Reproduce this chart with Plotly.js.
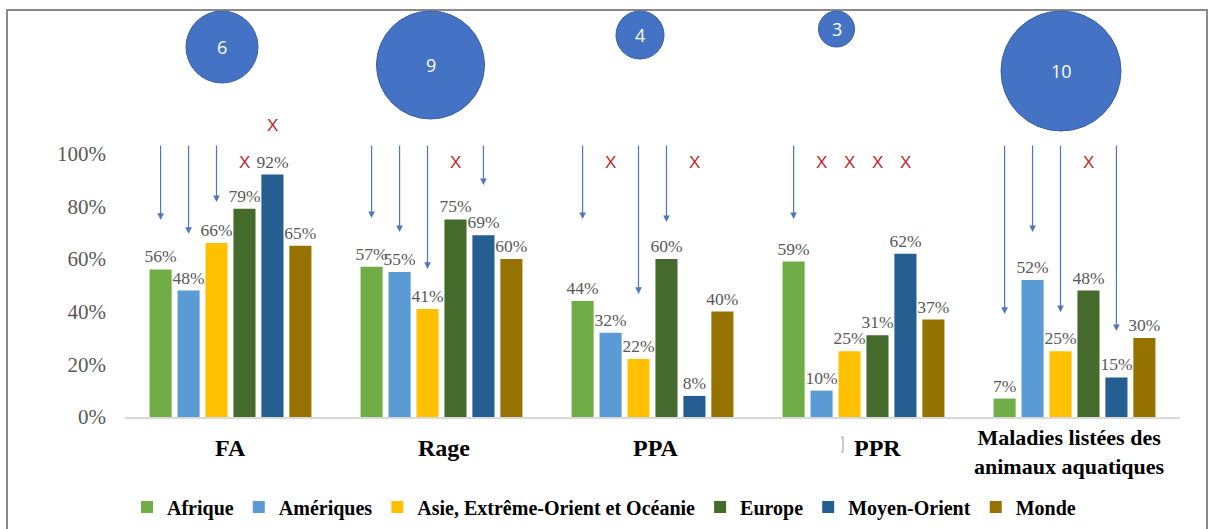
<!DOCTYPE html>
<html>
<head>
<meta charset="utf-8">
<script src="https://cdn.plot.ly/plotly-3.0.1.min.js"></script>
<style>
  html, body { margin: 0; padding: 0; background: #fff; }
  #chart { width: 1215px; height: 529px; }
</style>
</head>
<body>
<div id="chart"></div>
<script>
// Diseases (categories on the x axis)
const categories = ['FA', 'Rage', 'PPA', 'PPR', 'Maladies listées des<br>animaux aquatiques'];

// Regions (one bar series each)
const regions = ['Afrique', 'Amériques', 'Asie, Extrême-Orient et Océanie', 'Europe', 'Moyen-Orient', 'Monde'];

// Share of members per region, per disease
const afrique     = [0.56, 0.57, 0.44, 0.59, 0.07];
const ameriques   = [0.48, 0.55, 0.32, 0.10, 0.52];
const asie        = [0.66, 0.41, 0.22, 0.25, 0.25];
const europe      = [0.79, 0.75, 0.60, 0.31, 0.48];
const moyenOrient = [0.92, 0.69, 0.08, 0.62, 0.15];
const monde       = [0.65, 0.60, 0.40, 0.37, 0.30];

// Count shown in the bubble above each disease
const counts = [6, 9, 4, 3, 10];

// Downward arrows: [disease index, region index, arrow tip value]
const arrows = [
  [0, 0, 0.748], [0, 1, 0.695], [0, 2, 0.816],
  [1, 0, 0.755], [1, 1, 0.702], [1, 2, 0.562], [1, 4, 0.880],
  [2, 0, 0.751], [2, 2, 0.467], [2, 3, 0.740],
  [3, 0, 0.751],
  [4, 0, 0.391], [4, 1, 0.702], [4, 2, 0.398], [4, 4, 0.326]
];
const arrowTop = 1.036;

// Crosses: [disease index, region index, height]
const crosses = [
  [0, 3, 0.964], [0, 4, 1.108],
  [1, 3, 0.964],
  [2, 1, 0.964], [2, 4, 0.964],
  [3, 1, 0.964], [3, 2, 0.964], [3, 3, 0.964], [3, 4, 0.964],
  [4, 3, 0.964]
];

const series = [afrique, ameriques, asie, europe, moyenOrient, monde];
const colors = ['#70AD47', '#5B9BD5', '#FFC000', '#446A2C', '#255E91', '#967300'];

// ---- layout geometry ----
const W = 1215, H = 529;
const M = { l: 125, r: 35, t: 10, b: 112, autoexpand: false };
const plotW = W - M.l - M.r, plotH = H - M.t - M.b;
const pxPerUnit = 263.5;              // pixels for 100 %
const yMax = plotH / pxPerUnit;
const bargap = 0.205, bargroupgap = 0.21;
const slot = (1 - bargap) / regions.length;
const barX = (c, r) => c + (r - (regions.length - 1) / 2) * slot;
const bubbleShift = [-8.5, -11, -12.5, -27, -13.5];   // horizontal nudge of bubbles (px)
const labelShift = [0, 2, 3, 14, -5];                  // horizontal nudge of category names (px)
const bubblePxPerUnit = 6;                             // bubble radius per counted unit (px)

const serif = 'Liberation Serif';
const sans = 'Liberation Sans';

const toPaperX = px => (px - M.l) / plotW;
const toPaperY = py => (H - M.b - py) / plotH;

const traces = regions.map((name, i) => ({
  type: 'bar',
  name: name,
  x: categories,
  y: series[i],
  marker: { color: colors[i] },
  text: series[i].map(v => Math.round(v * 100) + '%'),
  textposition: 'outside',
  constraintext: 'none',
  cliponaxis: false,
  textfont: { family: serif, size: 17.5, color: '#595959' },
  hoverinfo: 'skip'
}));

const annotations = [];
const shapes = [];

// category names under the axis
categories.forEach((name, c) => {
  const n = name.split('<br>').length;
  annotations.push({
    x: name, xref: 'x', xshift: labelShift[c],
    y: toPaperY(448 + (n - 1) * 4), yref: 'paper', yanchor: 'middle',
    text: name, showarrow: false,
    font: { family: serif, size: n > 1 ? 22 : 24, color: '#000000', weight: 'bold' }
  });
});

arrows.forEach(([c, r, tip]) => {
  const x = barX(c, r);
  annotations.push({
    x: x, y: tip, xref: 'x', yref: 'y',
    ax: x, ay: arrowTop, axref: 'x', ayref: 'y',
    text: '', showarrow: true,
    arrowhead: 2, arrowsize: 1.1, arrowwidth: 1.2, arrowcolor: '#4F77BE'
  });
});

crosses.forEach(([c, r, h]) => {
  annotations.push({
    x: barX(c, r), y: h, xref: 'x', yref: 'y',
    text: 'X', showarrow: false,
    font: { family: sans, size: 17, color: '#C0282A' }
  });
});

counts.forEach((n, c) => {
  const rad = n * bubblePxPerUnit;
  shapes.push({
    type: 'circle', layer: 'above',
    xref: 'x', xsizemode: 'pixel', xanchor: c,
    x0: bubbleShift[c] - rad, x1: bubbleShift[c] + rad,
    yref: 'paper', ysizemode: 'pixel', yanchor: 1,
    y0: -1 - 2 * rad, y1: -1,
    fillcolor: '#4472C4',
    line: { color: '#3A5F9F', width: 1 }
  });
  annotations.push({
    x: c, xref: 'x', xshift: bubbleShift[c],
    y: 1, yref: 'paper', yshift: -1 - rad, yanchor: 'middle',
    text: String(n), showarrow: false,
    font: { family: 'Open Sans', size: 18, color: '#FFFFFF' }
  });
});

// outer frame
shapes.push({
  type: 'rect', xref: 'paper', yref: 'paper', layer: 'below',
  x0: toPaperX(7), x1: toPaperX(1207), y0: toPaperY(H + 10), y1: toPaperY(10),
  line: { color: '#8A8A8A', width: 2 }, fillcolor: 'rgba(0,0,0,0)'
});
// small bracket mark beside PPR label
shapes.push({
  type: 'path', xref: 'paper', yref: 'paper', layer: 'above',
  path: 'M ' + toPaperX(841) + ' ' + toPaperY(437) + ' L ' + toPaperX(843) + ' ' + toPaperY(437) +
        ' L ' + toPaperX(843) + ' ' + toPaperY(452) + ' L ' + toPaperX(841) + ' ' + toPaperY(452),
  line: { color: '#9A9A9A', width: 1 }
});

const layout = {
  width: W, height: H,
  margin: M,
  paper_bgcolor: '#FFFFFF',
  plot_bgcolor: '#FFFFFF',
  barmode: 'group',
  bargap: bargap,
  bargroupgap: bargroupgap,
  showlegend: true,
  legend: {
    orientation: 'h',
    x: toPaperX(604), xanchor: 'center',
    y: toPaperY(507), yanchor: 'middle',
    font: { family: serif, size: 20, color: '#000000', weight: 'bold' },
    itemclick: false, itemdoubleclick: false,
    traceorder: 'normal'
  },
  xaxis: {
    type: 'category',
    showgrid: false,
    showline: true,
    linecolor: '#D9D9D9',
    linewidth: 1.5,
    ticks: '',
    showticklabels: false,
    fixedrange: true
  },
  yaxis: {
    range: [0, yMax],
    tickvals: [0, 0.2, 0.4, 0.6, 0.8, 1.0],
    tickformat: '.0%',
    showgrid: false,
    zeroline: false,
    showline: false,
    ticks: '',
    ticklabelstandoff: 18,
    tickfont: { family: serif, size: 21, color: '#595959' },
    fixedrange: true
  },
  annotations: annotations,
  shapes: shapes
};

Plotly.newPlot('chart', traces, layout, { displayModeBar: false, staticPlot: true });
</script>
</body>
</html>
